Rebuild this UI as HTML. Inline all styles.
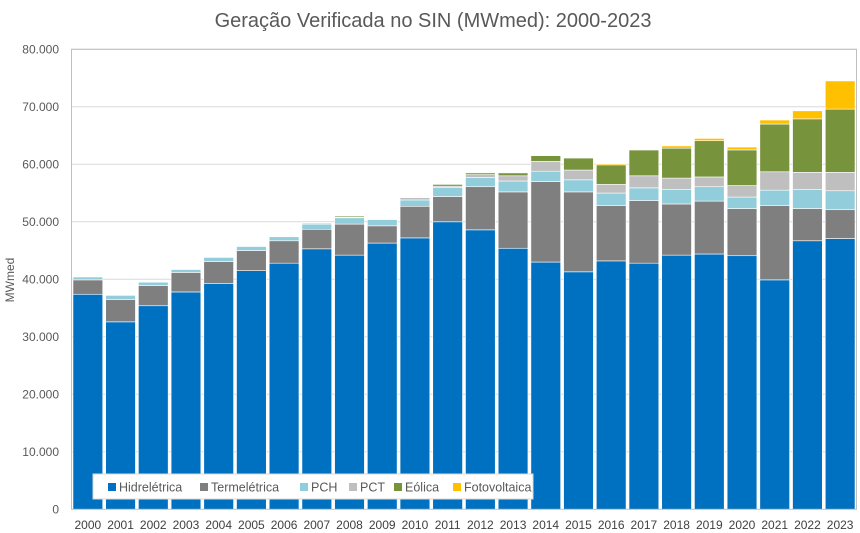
<!DOCTYPE html>
<html><head><meta charset="utf-8"><style>
body{margin:0;background:#fff;}
svg{display:block;font-family:"Liberation Sans",sans-serif;}
</style></head><body>
<svg id="chart" width="860" height="533">
<text x="433" y="27" text-anchor="middle" font-size="20" fill="#595959">Geração Verificada no SIN (MWmed): 2000-2023</text>
<text transform="translate(14,280) rotate(-90)" text-anchor="middle" font-size="12" fill="#595959">MWmed</text>
<g id="grid"></g><g id="bars"></g><g id="axes"></g>
<g>
<rect x="93" y="474" width="440" height="25" fill="#fff" stroke="#d9d9d9"/>
<g id="legend"></g>
</g>
</svg>
<script>
const years=["2000","2001","2002","2003","2004","2005","2006","2007","2008","2009","2010","2011","2012","2013","2014","2015","2016","2017","2018","2019","2020","2021","2022","2023"];
const hidro=[37.4,32.6,35.4,37.8,39.3,41.5,42.8,45.3,44.2,46.3,47.2,50.0,48.6,45.4,43.0,41.3,43.2,42.8,44.2,44.4,44.1,39.9,46.7,47.1];
const termo=[2.5,3.9,3.5,3.4,3.8,3.5,3.9,3.4,5.4,3.0,5.5,4.4,7.5,9.8,14.0,13.9,9.6,10.9,8.9,9.2,8.2,12.9,5.6,5.0];
const pch=[0.5,0.7,0.6,0.5,0.7,0.7,0.7,0.9,1.1,1.1,1.1,1.6,1.6,1.9,1.8,2.1,2.2,2.2,2.5,2.5,2.0,2.7,3.3,3.3];
const pct=[0,0,0,0,0,0,0.1,0.2,0.1,0.1,0.4,0.2,0.5,0.9,1.7,1.7,1.5,2.1,2.0,1.7,2.0,3.2,3.0,3.2];
const eolica=[0,0,0,0,0,0,0,0.1,0.2,0.1,0.1,0.3,0.3,0.5,1.0,2.1,3.4,4.5,5.2,6.3,6.2,8.3,9.3,11.0];
const solar=[0,0,0,0,0,0,0,0,0,0,0,0,0,0,0,0.1,0.2,0.1,0.4,0.4,0.5,0.7,1.4,4.9];
const yTicks=[0,10,20,30,40,50,60,70,80];
const yTickLabels=["0","10.000","20.000","30.000","40.000","50.000","60.000","70.000","80.000"];
const seriesNames=["Hidrelétrica","Termelétrica","PCH","PCT","Eólica","Fotovoltaica"];
const series=[hidro,termo,pch,pct,eolica,solar];
const colors=["#0070C0","#7F7F7F","#92CDDC","#BFBFBF","#77933C","#FFC000"];
const NS="http://www.w3.org/2000/svg";
const L=71.5,R=856.5,T=49.3,B=509.3,ymax=80;
const y=v=>B-(v/ymax)*(B-T);
const band=(R-L)/years.length;
const x=i=>L+i*band;
function mk(t,a,p){const e=document.createElementNS(NS,t);for(const k in a)e.setAttribute(k,a[k]);p.appendChild(e);return e;}
const grid=document.getElementById('grid'),bars=document.getElementById('bars'),axes=document.getElementById('axes');
yTicks.forEach((t,i)=>{
  if(t>0){const g=mk('line',{x1:L,x2:R,y1:y(t),y2:y(t),stroke:'#d9d9d9','stroke-width':1},grid);
  
  }
  const lb=mk('text',{x:59,y:y(t)+4,'text-anchor':'end','font-size':12,fill:'#595959'},axes);
  lb.textContent=yTickLabels[i];
  
  
});
const frame=mk('rect',{x:L,y:T,width:R-L,height:B-T,fill:'none',stroke:'#bfbfbf'},axes);


years.forEach((yr,i)=>{
  let acc=0;const bw=band*0.91,bx=x(i)+(band-bw)/2;
  series.forEach((s,k)=>{
    const v=s[i];if(v<=0)return;
    const r=mk('rect',{x:bx,y:y(acc+v),width:bw,height:y(acc)-y(acc+v),fill:colors[k],stroke:'#fff','stroke-width':0.6},bars);
    
    
    acc+=v;
  });
  const lb=mk('text',{x:x(i)+band/2,y:529,'text-anchor':'middle','font-size':12,fill:'#404040'},axes);
  lb.textContent=yr;
  
  
});
const leg=document.getElementById('legend');
const lx=[108,200,300,349,394,453];
seriesNames.forEach((n,k)=>{
  const s=mk('rect',{x:lx[k],y:483,width:8,height:8,fill:colors[k]},leg);
  
  
  const t=mk('text',{x:lx[k]+11,y:491.5,'font-size':12.5,fill:'#595959'},leg);
  t.textContent=n;
  
  
});
</script>
</body></html>
